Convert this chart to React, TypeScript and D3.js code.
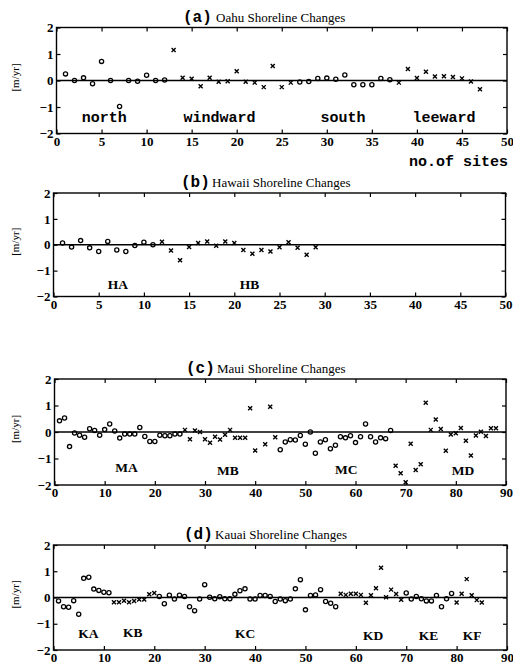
import * as d3 from 'd3';
import React, { useEffect, useRef } from 'react';

// shoreline change rates [m/yr], one array per coast segment, sites numbered consecutively
const oahuNorth = [0.25, 0.0, 0.1, -0.12, 0.72, 0.0, -0.98, 0.0, -0.03, 0.2, 0.0, 0.02];
const oahuWindward = [1.15, 0.1, 0.07, -0.22, 0.1, -0.05, -0.03, 0.35, -0.05, -0.08, -0.25, 0.55, -0.25, -0.08];
const oahuSouth = [-0.06, -0.04, 0.08, 0.09, 0.05, 0.21, -0.16, -0.16, -0.16, 0.08, 0.03];
const oahuLeeward = [-0.08, 0.43, 0.09, 0.33, 0.15, 0.16, 0.13, 0.08, -0.04, -0.33];

const hawaiiHA = [0.07, -0.09, 0.16, -0.12, -0.26, 0.13, -0.2, -0.26, -0.03, 0.1, 0.0];
const hawaiiHB = [0.12, -0.22, -0.6, -0.09, 0.07, 0.13, -0.04, 0.13, 0.07, -0.2, -0.35, -0.2, -0.26, -0.1, 0.1, -0.12, -0.39, -0.1];

const mauiMA = [0.42, 0.53, -0.55, -0.04, -0.12, -0.2, 0.12, 0.06, -0.12, 0.09, 0.3, 0.04, -0.23, -0.08, -0.08, -0.08, 0.17, -0.17, -0.36, -0.36, -0.12, -0.14, -0.14, -0.08, -0.08];
const mauiMB = [0.08, -0.27, 0.06, 0.0, -0.27, -0.41, -0.18, -0.28, -0.1, 0.08, -0.22, -0.22, -0.22, 0.9, -0.7, null, -0.46, 0.95, -0.2];
const mauiMC = [-0.67, -0.38, -0.29, -0.3, -0.13, -0.46, 0.0, -0.8, -0.38, -0.29, -0.63, -0.5, -0.18, -0.22, -0.14, -0.4, -0.18, 0.3, -0.18, -0.38, -0.22, -0.25, 0.06];
const mauiMD = [-1.27, -1.56, -1.9, -0.44, -1.43, -1.22, 1.1, 0.08, 0.47, 0.11, -0.71, -0.09, -0.05, 0.15, -0.33, -0.89, -0.13, 0.01, -0.15, 0.14, 0.14];

const kauaiKA = [-0.13, -0.35, -0.37, -0.12, -0.64, 0.73, 0.77, 0.32, 0.27, 0.2, 0.18];
const kauaiKB = [-0.18, -0.18, -0.12, -0.18, -0.13, -0.08, -0.08, 0.12, 0.17];
const kauaiKC = [0.04, -0.24, 0.09, -0.06, 0.09, 0.04, -0.35, -0.5, -0.06, 0.49, 0.01, -0.05, 0.03, -0.05, -0.05, 0.12, 0.26, 0.33, -0.06, -0.06,
  0.08, 0.08, 0.04, -0.15, -0.06, -0.12, -0.06, 0.33, 0.68, -0.47, 0.08, 0.1, 0.3, -0.15, -0.22, -0.35];
const kauaiKD = [0.14, 0.1, 0.14, 0.14, 0.1, -0.2, 0.09, 0.35, 1.13, 0.01, 0.3, 0.13, -0.09];
const kauaiKE = [0.17, -0.06, 0.04, -0.05, -0.13, -0.13, 0.08, -0.35, -0.05, 0.15];
const kauaiKF = [-0.19, 0.14, 0.7, 0.09, -0.1, -0.19];

// region names, placed in data units
const oahuLabels = [
  { text: 'north', x: 2.8, y: -1.56 },
  { text: 'windward', x: 14.1, y: -1.56 },
  { text: 'south', x: 29.3, y: -1.58 },
  { text: 'leeward', x: 39.5, y: -1.56 },
];
const hawaiiLabels = [
  { text: 'HA', x: 6.0, y: -1.7 },
  { text: 'HB', x: 20.6, y: -1.7 },
];
const mauiLabels = [
  { text: 'MA', x: 12.1, y: -1.52 },
  { text: 'MB', x: 32.4, y: -1.63 },
  { text: 'MC', x: 55.9, y: -1.59 },
  { text: 'MD', x: 79.2, y: -1.63 },
];
const kauaiLabels = [
  { text: 'KA', x: 4.9, y: -1.54 },
  { text: 'KB', x: 13.8, y: -1.5 },
  { text: 'KC', x: 36.0, y: -1.54 },
  { text: 'KD', x: 61.4, y: -1.61 },
  { text: 'KE', x: 72.5, y: -1.61 },
  { text: 'KF', x: 81.2, y: -1.61 },
];

const yTicks = [-2, -1, 0, 1, 2];
const ticks50 = d3.range(0, 51, 5);
const ticks90 = d3.range(0, 91, 10);

const panels = [
  {
    letter: '(a)', name: 'Oahu Shoreline Changes', xMax: 50, xTicks: ticks50,
    left: 56.5, right: 507, top: 27.5, bottom: 133.5, titleX: 183, nameX: 216,
    groups: [
      { start: 1, values: oahuNorth, marker: 'o' },
      { start: 13, values: oahuWindward, marker: 'x' },
      { start: 27, values: oahuSouth, marker: 'o' },
      { start: 38, values: oahuLeeward, marker: 'x' },
    ],
    labels: oahuLabels, labelFont: 'mono', sitesLabel: true,
  },
  {
    letter: '(b)', name: 'Hawaii Shoreline Changes', xMax: 50, xTicks: ticks50,
    left: 53.5, right: 505.5, top: 193, bottom: 296.5, titleX: 181, nameX: 212,
    groups: [
      { start: 1, values: hawaiiHA, marker: 'o' },
      { start: 12, values: hawaiiHB, marker: 'x' },
    ],
    labels: hawaiiLabels, labelFont: 'serif', sitesLabel: false,
  },
  {
    letter: '(c)', name: 'Maui Shoreline Changes', xMax: 90, xTicks: ticks90,
    left: 54.5, right: 506, top: 379, bottom: 485, titleX: 186, nameX: 217,
    groups: [
      { start: 1, values: mauiMA, marker: 'o' },
      { start: 26, values: mauiMB, marker: 'x' },
      { start: 45, values: mauiMC, marker: 'o' },
      { start: 68, values: mauiMD, marker: 'x' },
    ],
    labels: mauiLabels, labelFont: 'serif', sitesLabel: false,
  },
  {
    letter: '(d)', name: 'Kauai Shoreline Changes', xMax: 90, xTicks: ticks90,
    left: 53.5, right: 507, top: 545, bottom: 650, titleX: 184, nameX: 215,
    groups: [
      { start: 1, values: kauaiKA, marker: 'o' },
      { start: 12, values: kauaiKB, marker: 'x' },
      { start: 21, values: kauaiKC, marker: 'o' },
      { start: 57, values: kauaiKD, marker: 'x' },
      { start: 70, values: kauaiKE, marker: 'o' },
      { start: 80, values: kauaiKF, marker: 'x' },
    ],
    labels: kauaiLabels, labelFont: 'serif', sitesLabel: false,
  },
];

const serif = "'Liberation Serif', 'DejaVu Serif', serif";
const mono = "'Liberation Mono', 'DejaVu Sans Mono', monospace";

function drawPanel(svg, p) {
  const x = d3.scaleLinear().domain([0, p.xMax]).range([p.left, p.right]);
  const y = d3.scaleLinear().domain([-2, 2]).range([p.bottom, p.top]);
  const g = svg.append('g');

  // inner ticks on all four sides
  const styleAxis = (sel) => {
    sel.select('.domain').remove();
    sel.selectAll('line').attr('stroke', 'black').attr('stroke-width', 1.2);
    sel.selectAll('text')
      .attr('fill', 'black')
      .style('font-family', serif)
      .style('font-weight', 'bold')
      .style('font-size', '13px');
  };
  g.append('g')
    .attr('transform', `translate(0,${p.bottom})`)
    .call(d3.axisBottom(x).tickValues(p.xTicks).tickSizeInner(-4).tickSizeOuter(0).tickPadding(3).tickFormat(d3.format('d')))
    .call(styleAxis);
  g.append('g')
    .attr('transform', `translate(0,${p.top})`)
    .call(d3.axisTop(x).tickValues(p.xTicks).tickSizeInner(-4).tickSizeOuter(0).tickFormat(() => ''))
    .call(styleAxis);
  g.append('g')
    .attr('transform', `translate(${p.left},0)`)
    .call(d3.axisLeft(y).tickValues(yTicks).tickSizeInner(-4).tickSizeOuter(0).tickPadding(3).tickFormat(d3.format('d')))
    .call(styleAxis);
  g.append('g')
    .attr('transform', `translate(${p.right},0)`)
    .call(d3.axisRight(y).tickValues(yTicks).tickSizeInner(-4).tickSizeOuter(0).tickFormat(() => ''))
    .call(styleAxis);

  // frame
  g.append('rect')
    .attr('x', p.left)
    .attr('y', p.top)
    .attr('width', p.right - p.left)
    .attr('height', p.bottom - p.top)
    .attr('fill', 'none')
    .attr('stroke', 'black')
    .attr('stroke-width', 1.4);

  // zero line
  g.append('line')
    .attr('x1', x(0))
    .attr('x2', x(p.xMax))
    .attr('y1', y(0))
    .attr('y2', y(0))
    .attr('stroke', 'black')
    .attr('stroke-width', 1.4);

  // site markers
  p.groups.forEach((grp) => {
    grp.values.forEach((v, i) => {
      if (v == null) return;
      const cx = x(grp.start + i);
      const cy = y(v);
      if (grp.marker === 'o') {
        g.append('circle')
          .attr('cx', cx)
          .attr('cy', cy)
          .attr('r', 2.1)
          .attr('fill', 'none')
          .attr('stroke', 'black')
          .attr('stroke-width', 1.3);
      } else {
        const s = 2;
        g.append('path')
          .attr('d', `M${cx - s},${cy - s}L${cx + s},${cy + s}M${cx + s},${cy - s}L${cx - s},${cy + s}`)
          .attr('stroke', 'black')
          .attr('stroke-width', 1.4);
      }
    });
  });

  // region names
  p.labels.forEach((l) => {
    g.append('text')
      .attr('x', x(l.x))
      .attr('y', y(l.y))
      .attr('fill', 'black')
      .style('font-family', p.labelFont === 'mono' ? mono : serif)
      .style('font-weight', 'bold')
      .style('font-size', p.labelFont === 'mono' ? '15px' : '13.5px')
      .text(l.text);
  });

  // title
  const title = g.append('text')
    .attr('y', p.top - 6)
    .attr('fill', 'black');
  title.append('tspan')
    .attr('x', p.titleX)
    .style('font-family', mono)
    .style('font-weight', 'bold')
    .style('font-size', '16px')
    .text(p.letter);
  title.append('tspan')
    .attr('x', p.nameX)
    .style('font-family', serif)
    .style('font-size', '13px')
    .text(p.name);

  // y axis label
  g.append('text')
    .attr('text-anchor', 'middle')
    .attr('fill', 'black')
    .style('font-family', serif)
    .style('font-size', '11px')
    .attr('transform', `translate(19,${y(0) - 3}) rotate(-90)`)
    .text('[m/yr]');

  if (p.sitesLabel) {
    g.append('text')
      .attr('text-anchor', 'end')
      .attr('x', p.right + 1)
      .attr('y', p.bottom + 32)
      .attr('fill', 'black')
      .style('font-family', mono)
      .style('font-weight', 'bold')
      .style('font-size', '15px')
      .text('no.of sites');
  }
}

export default function App() {
  const ref = useRef(null);

  useEffect(() => {
    const svg = d3.select(ref.current);
    svg.selectAll('*').remove();
    panels.forEach((p) => drawPanel(svg, p));
  }, []);

  return (
    <svg
      ref={ref}
      width={513}
      height={666}
      style={{ position: 'absolute', left: 0, top: 0, background: 'white' }}
    />
  );
}
